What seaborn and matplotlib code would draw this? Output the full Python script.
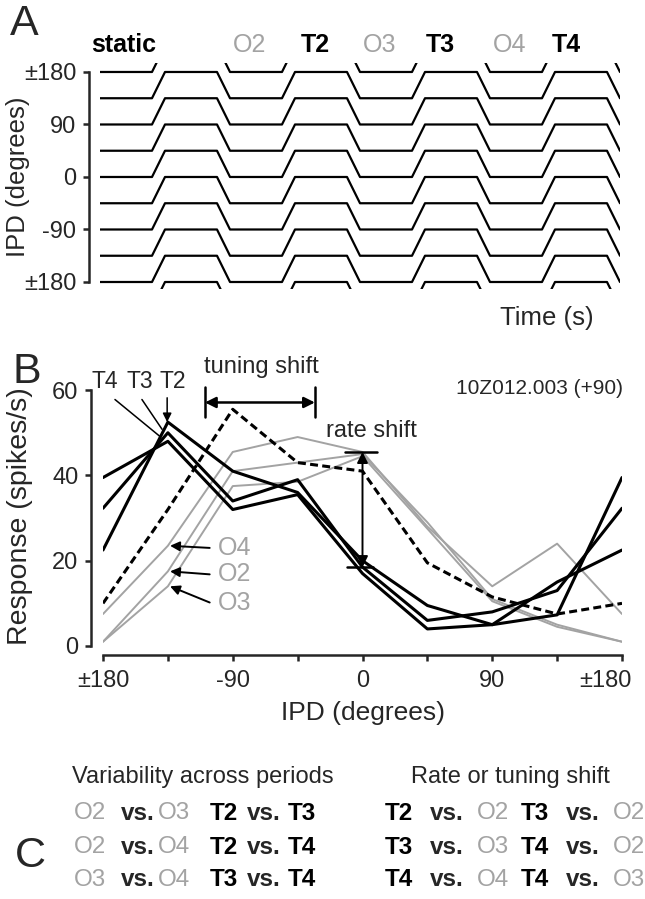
import numpy as np
import pandas as pd
import seaborn as sns
import matplotlib
matplotlib.use("Agg")
from matplotlib import pyplot as plt
import matplotlib.transforms as mtransforms

# ---- panel A: stimulus IPD trajectories ----
time_s = [0, 4, 5, 9, 10, 14, 15, 19, 20, 24, 25, 29, 30, 34, 35, 39, 40]
step = [0, 0, 1, 1, 0, 0, 1, 1, 0, 0, 1, 1, 0, 0, 1, 1, 0]
row_ipd = [180, 135, 90, 45, 0, -45, -90, -135, -180, -225]
period_labels = ["static", "O2", "T2", "O3", "T3", "O4", "T4"]
period_t = [1.8, 11.5, 16.6, 21.5, 26.2, 31.5, 35.9]
ipd_ticks_a = [180, 90, 0, -90, -180]
ipd_ticklabels_a = ["±180", "90", "0", "-90", "±180"]

# ---- panel B: tuning curves ----
ipd = [-180, -135, -90, -45, 0, 45, 90, 135, 180]
t2 = [22.5, 52.5, 41, 36, 20, 9.5, 5, 15, 22.5]
t3 = [32.3, 50, 34, 39, 18.5, 6, 8, 13, 32.3]
t4 = [39.5, 48, 32, 35.5, 17, 4, 5, 7.3, 39.5]
o2 = [1, 17.5, 41, 43, 45, 29, 11, 5, 1]
o3 = [1, 14, 37.5, 38.5, 44.5, 27.5, 10.5, 4.5, 1]
o4 = [7.5, 23.5, 45.5, 49, 45.5, 28, 14, 24, 7.5]
static = [10, 32, 55.5, 43, 41, 19.5, 11.5, 7.5, 10]
ipd_ticklabels_b = ["±180", "", "-90", "", "0", "", "90", "", "±180"]
rate_ticks = [0, 20, 40, 60]

# ---- panel C: comparisons ----
var_left = [("O2", "O3"), ("O2", "O4"), ("O3", "O4")]
var_right = [("T2", "T3"), ("T2", "T4"), ("T3", "T4")]
shift_left = [("T2", "O2"), ("T3", "O3"), ("T4", "O4")]
shift_right = [("T3", "O2"), ("T4", "O2"), ("T4", "O3")]

GRAY = "#a3a3a3"
W, H = 645, 899

sns.set_style("ticks")
plt.rcParams['font.family'] = ['Liberation Sans', 'DejaVu Sans']

fig = plt.figure(figsize=(W / 100, H / 100), dpi=100)
fig.patch.set_facecolor("white")


def fx(x):
    return x / W


def fy(y):
    return 1 - y / H


# ================= panel A =================
axA = fig.add_axes([fx(100), fy(289), 520 / W, 226 / H])
for base in row_ipd:
    sns.lineplot(x=time_s, y=np.array(step) * 45 + base, ax=axA, color="black",
                 lw=1.6, estimator=None, sort=False)
axA.set_xlim(0, 40)
axA.set_ylim(-192, 195.4)
for s in ["top", "right", "bottom"]:
    axA.spines[s].set_visible(False)
axA.spines["left"].set_position(("outward", 8))
axA.spines["left"].set_bounds(-180, 180)
axA.spines["left"].set_linewidth(1.8)
axA.set_xticks([])
axA.set_yticks(ipd_ticks_a)
axA.set_yticklabels(ipd_ticklabels_a)
axA.tick_params(axis="y", length=4, width=1.8, pad=5, labelsize=17)
axA.set_facecolor("none")

for lab, t in zip(period_labels, period_t):
    isO = lab.startswith("O")
    axA.text(t, 226, lab, ha="center", va="center", fontsize=18,
             color=GRAY if isO else "black",
             fontweight="normal" if isO else "bold", clip_on=False)

fig.text(fx(18), fy(177), "IPD (degrees)", rotation=90, ha="center", va="center", fontsize=18.5)
fig.text(fx(547), fy(318), "Time (s)", ha="center", va="center", fontsize=18.5)

# ================= panel B =================
axB = fig.add_axes([fx(103), fy(646), 519 / W, 290 / H])
for vals in [o2, o3, o4]:
    sns.lineplot(x=ipd, y=vals, ax=axB, color=GRAY, lw=1.4, estimator=None, sort=False)
sns.lineplot(x=ipd, y=static, ax=axB, color="black", lw=2.2, estimator=None, sort=False,
             linestyle=(0, (2.6, 1.4)))
for vals in [t2, t3, t4]:
    sns.lineplot(x=ipd, y=vals, ax=axB, color="black", lw=2.2, estimator=None, sort=False)

axB.set_xlim(-180, 180)
axB.set_ylim(0, 68)
for s in ["top", "right"]:
    axB.spines[s].set_visible(False)
axB.spines["left"].set_position(("outward", 8.6))
axB.spines["bottom"].set_position(("outward", 6.5))
axB.spines["left"].set_bounds(0, 60)
axB.spines["bottom"].set_bounds(-180, 180)
for s in ["left", "bottom"]:
    axB.spines[s].set_linewidth(1.8)
axB.set_xticks(ipd)
axB.set_xticklabels(ipd_ticklabels_b)
axB.set_yticks(rate_ticks)
axB.tick_params(axis="both", length=4, width=1.8, labelsize=17)
axB.tick_params(axis="x", pad=7)
axB.tick_params(axis="y", pad=5)
axB.set_xlabel("")
axB.set_ylabel("")
axB.set_facecolor("none")
# last "±180" sits a little left of its tick, as in the original
last = axB.get_xticklabels()[-1]
last.set_transform(last.get_transform() +
                   mtransforms.ScaledTranslation(-0.17, 0, fig.dpi_scale_trans))

fig.text(fx(20), fy(516), "Response (spikes/s)", rotation=90, ha="center", va="center", fontsize=20.5)
fig.text(fx(363), fy(713), "IPD (degrees)", ha="center", va="center", fontsize=19)

i135 = ipd.index(-135)
i0 = ipd.index(0)

# T labels with pointers
axB.text(-178.6, 62, "T4", ha="center", va="center", fontsize=16.5, clip_on=False)
axB.text(-154.3, 62, "T3", ha="center", va="center", fontsize=16.5, clip_on=False)
axB.text(-131.4, 62, "T2", ha="center", va="center", fontsize=16.5, clip_on=False)
axB.plot([-171.7, -140], [57.8, t4[i135] + 1], color="black", lw=1.1, clip_on=False)
axB.plot([-153, -139], [57.8, t3[i135] + 0.8], color="black", lw=1.1, clip_on=False)
axB.annotate("", xy=(-135.5, t2[i135]), xytext=(-135.5, 58.2),
             arrowprops=dict(arrowstyle="-|>", color="black", lw=1.1, mutation_scale=13,
                             shrinkA=0, shrinkB=0))

# tuning shift bracket
axB.text(-70.4, 65.4, "tuning shift", ha="center", va="center", fontsize=17, clip_on=False)
for xb in [-109.3, -33]:
    axB.plot([xb, xb], [53.6, 60.7], color="black", lw=1.8, clip_on=False)
axB.annotate("", xy=(-109.3, 57.1), xytext=(-33, 57.1),
             arrowprops=dict(arrowstyle="<|-|>", color="black", lw=1.8, mutation_scale=16,
                             shrinkA=0, shrinkB=0))

# rate shift
o_top = max(o2[i0], o3[i0], o4[i0])
t_bot = (t2[i0] + t3[i0] + t4[i0]) / 3
axB.text(6.5, 50.3, "rate shift", ha="center", va="center", fontsize=17, clip_on=False)
axB.plot([-12, 10], [o_top, o_top], color="black", lw=1.8)
axB.plot([-11, 7], [t_bot, t_bot], color="black", lw=1.8)
axB.annotate("", xy=(0, o_top), xytext=(0, t_bot),
             arrowprops=dict(arrowstyle="<|-|>", color="black", lw=1.4, mutation_scale=16,
                             shrinkA=0, shrinkB=0))

# O labels with arrows
for lab, vals, ty in [("O4", o4, 23), ("O2", o2, 16.8), ("O3", o3, 10.2)]:
    axB.text(-100, ty, lab, ha="left", va="center", fontsize=18, color=GRAY)
    axB.annotate("", xy=(-133.5, vals[i135]), xytext=(-106, ty),
                 arrowprops=dict(arrowstyle="-|>", color="black", lw=1.4, mutation_scale=14,
                                 shrinkA=0, shrinkB=0))

axB.text(180.6, 60.4, "10Z012.003 (+90)", ha="right", va="center", fontsize=15, clip_on=False)

# ================= panel C =================
fig.text(fx(203), fy(777), "Variability across periods", ha="center", va="center", fontsize=17)
fig.text(fx(510), fy(777), "Rate or tuning shift", ha="center", va="center", fontsize=17)

row_y = [813, 847, 880]


def pair_row(x0, x_vs, x1, y, a, b):
    for lab, xx in [(a, x0), (b, x1)]:
        isO = lab.startswith("O")
        fig.text(fx(xx), fy(y), lab, ha="left", va="center", fontsize=17.5,
                 color=GRAY if isO else "black", fontweight="normal" if isO else "bold")
    fig.text(fx(x_vs), fy(y), "vs.", ha="left", va="center", fontsize=17.5, fontweight="bold")


for i, y in enumerate(row_y):
    pair_row(74, 121, 158, y, *var_left[i])
    pair_row(210, 247, 288, y, *var_right[i])
    pair_row(385, 430, 477, y, *shift_left[i])
    pair_row(521, 566, 613, y, *shift_right[i])

# panel letters
fig.text(fx(24), fy(24), "A", ha="center", va="center", fontsize=31)
fig.text(fx(27), fy(372), "B", ha="center", va="center", fontsize=31)
fig.text(fx(30), fy(856), "C", ha="center", va="center", fontsize=31)

fig.savefig("out.png", dpi=100, facecolor="white")
